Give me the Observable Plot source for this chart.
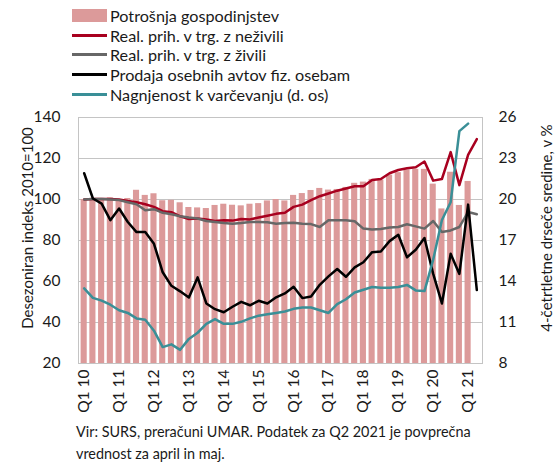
<!DOCTYPE html>
<html><head><meta charset="utf-8">
<script src="https://cdn.jsdelivr.net/npm/d3@7"></script>
<script src="https://cdn.jsdelivr.net/npm/@observablehq/plot@0.6"></script>
<style>
body{margin:0;background:#fff;font-family:Lato,"Open Sans",sans-serif;color:#1a1a1a}
#wrap{position:relative;width:557px;height:465px;overflow:hidden;background:#fff}
.leg{position:absolute;left:72px;top:6px;font-size:16.2px}
.row{display:flex;align-items:center;height:19.6px;white-space:nowrap}
.sw{width:35px;margin-right:3px;flex:none}
#chart{position:absolute;left:0;top:105px}
.ytitle{position:absolute;font-size:15px;white-space:nowrap;transform:translate(-50%,-50%) rotate(-90deg)}
.cap{position:absolute;left:76px;top:421px;font-size:14.4px;line-height:22px}
</style></head>
<body>
<div id="wrap">
  <div class="leg" id="legend"></div>
  <div id="chart"></div>
  <div class="ytitle" style="left:27px;top:228px">Desezoniran indeks 2010=100</div>
  <div class="ytitle" style="left:546px;top:228px">4-četrtletne drseče sredine, v %</div>
  <div class="cap">Vir: SURS, preračuni UMAR. Podatek za Q2 2021 je povprečna<br>vrednost za april in maj.</div>
</div>
<script>
const quarters = [
  "Q1 10","Q2 10","Q3 10","Q4 10","Q1 11","Q2 11","Q3 11","Q4 11",
  "Q1 12","Q2 12","Q3 12","Q4 12","Q1 13","Q2 13","Q3 13","Q4 13",
  "Q1 14","Q2 14","Q3 14","Q4 14","Q1 15","Q2 15","Q3 15","Q4 15",
  "Q1 16","Q2 16","Q3 16","Q4 16","Q1 17","Q2 17","Q3 17","Q4 17",
  "Q1 18","Q2 18","Q3 18","Q4 18","Q1 19","Q2 19","Q3 19","Q4 19",
  "Q1 20","Q2 20","Q3 20","Q4 20","Q1 21","Q2 21"];
const xTickLabels = ["Q1 10","Q1 11","Q1 12","Q1 13","Q1 14","Q1 15","Q1 16","Q1 17","Q1 18","Q1 19","Q1 20","Q1 21"];
const leftTicks = [20,40,60,80,100,120,140];
const rightTicks = [8,11,14,17,20,23,26];

// Potrošnja gospodinjstev (Q1 10 – Q1 21)
const consumption = [100,100.5,100.5,100.8,100,100.5,104.5,102,102.8,99.4,99.6,98.4,
  96.1,95.9,95.6,97.1,97.7,97.2,96.9,97.7,98,99.3,100,99.3,102,102.9,104.4,105.4,
  104.6,104.9,105.9,107.9,108.5,109.8,109.5,111.9,113.1,114.4,114.7,114.7,107.5,95.4,113.3,97.1,108.8];
// Real. prih. v trg. z neživili (Q1 10 – Q2 21)
const nonFood = [100,100.3,100.3,100.3,100,99.3,98.7,97.7,96.4,94.3,93.8,91.8,
  90.5,90.7,90.2,89.5,89.9,89.7,90.5,90.3,91.2,92.1,93,93.5,96.4,97.5,99.7,101.6,
  102.9,104.3,105.4,106.5,106.5,109.5,110,112.8,114.4,115.2,115.7,118.5,109.2,110,123.1,107,121.8,129.5];
// Real. prih. v trg. z živili
const food = [100,100.3,100.3,100,99.7,98.7,97.7,94.8,95.3,93.5,92.8,91.8,
  91.2,90.7,89.5,89,88.5,88.2,88.5,89,89,88.9,88.2,88.5,88.7,88.2,88,86.6,
  89.9,89.9,89.9,89.4,85.8,85.4,85.6,86.3,86.6,87.9,86.9,85.8,89.5,84.1,84.9,86.6,93.9,92.8];
// Prodaja osebnih avtov fiz. osebam
const cars = [112.8,100.5,98,89.9,95.6,89,84.1,84.1,78.4,64.5,57.9,55.2,
  52.2,62,49.3,46.5,45,47.7,50.1,48.4,50.6,49.3,52.3,54.2,57.4,51.9,52.7,58.4,
  62.5,66.1,62.3,66.9,69.4,74.3,74.6,79.7,82.8,71.8,75.5,81.2,63.7,49.3,73.5,63.7,97.5,55.8];
// Nagnjenost k varčevanju (desna os, %), Q1 10 – Q1 21
const saving = [13.5,12.8,12.6,12.3,11.9,11.7,11.3,11.2,10.4,9.2,9.4,9.0,
  9.8,10.25,10.9,11.25,10.9,10.9,11.05,11.3,11.5,11.6,11.7,11.8,12.0,12.1,12.1,11.9,
  11.7,12.35,12.7,13.2,13.4,13.6,13.55,13.55,13.6,13.75,13.35,13.3,15.6,18.5,19.8,25.0,25.55];

const series = [
  {name:"Potrošnja gospodinjstev", type:"bar", color:"#dc9a9a"},
  {name:"Real. prih. v trg. z neživili", type:"line", color:"#a8001f"},
  {name:"Real. prih. v trg. z živili", type:"line", color:"#676767"},
  {name:"Prodaja osebnih avtov fiz. osebam", type:"line", color:"#000000"},
  {name:"Nagnjenost k varčevanju (d. os)", type:"line", color:"#3a8f97"}
];

// legend
const leg = document.getElementById("legend");
for (const s of series) {
  const row = document.createElement("div"); row.className = "row";
  const sw = document.createElement("div"); sw.className = "sw";
  if (s.type === "bar") { sw.style.height = "13px"; sw.style.background = s.color; }
  else { sw.style.height = "3px"; sw.style.background = s.color; }
  const t = document.createElement("span"); t.textContent = s.name;
  row.appendChild(sw); row.appendChild(t); leg.appendChild(row);
}

const yMin = 20, yMax = 140, rMin = 8, rMax = 26;
const toLeft = v => yMin + (v - rMin) * (yMax - yMin) / (rMax - rMin);

const bars = consumption.map((v,i) => ({q: quarters[i], v}));
const mk = arr => arr.map((v,i) => ({q: quarters[i], v}));

const chart = Plot.plot({
  width: 557, height: 313,
  marginLeft: 78, marginRight: 75, marginTop: 12, marginBottom: 55,
  style: {fontFamily: "Lato, 'Open Sans', sans-serif", fontSize: "15.5px", color: "#1a1a1a", background: "white", overflow: "visible"},
  x: {type: "band", domain: quarters, padding: 0.3},
  y: {domain: [yMin, yMax]},
  marks: [
    Plot.gridY(leftTicks.slice(1, -1), {stroke: "#c4c4c4", strokeOpacity: 1, strokeWidth: 1}),
    Plot.barY(bars, {x: "q", y1: yMin, y2: "v", fill: series[0].color}),
    Plot.line(mk(nonFood), {x: "q", y: "v", stroke: series[1].color, strokeWidth: 2.5}),
    Plot.line(mk(food), {x: "q", y: "v", stroke: series[2].color, strokeWidth: 2.5}),
    Plot.line(mk(cars), {x: "q", y: "v", stroke: series[3].color, strokeWidth: 2.5}),
    Plot.line(mk(saving), {x: "q", y: d => toLeft(d.v), stroke: series[4].color, strokeWidth: 2.5}),
    Plot.frame({stroke: "#c4c4c4"}),
    Plot.axisY({ticks: leftTicks, tickSize: 0, tickPadding: 18, label: null}),
    Plot.axisY({anchor: "right", ticks: leftTicks, tickFormat: (d) => rightTicks[leftTicks.indexOf(d)], tickSize: 0, tickPadding: 16, label: null}),
    Plot.axisX({ticks: xTickLabels, tickRotate: -90, tickSize: 0, tickPadding: 6, label: null, fontSize: "15.5px"})
  ]
});
document.getElementById("chart").appendChild(chart);
</script>
</body></html>
